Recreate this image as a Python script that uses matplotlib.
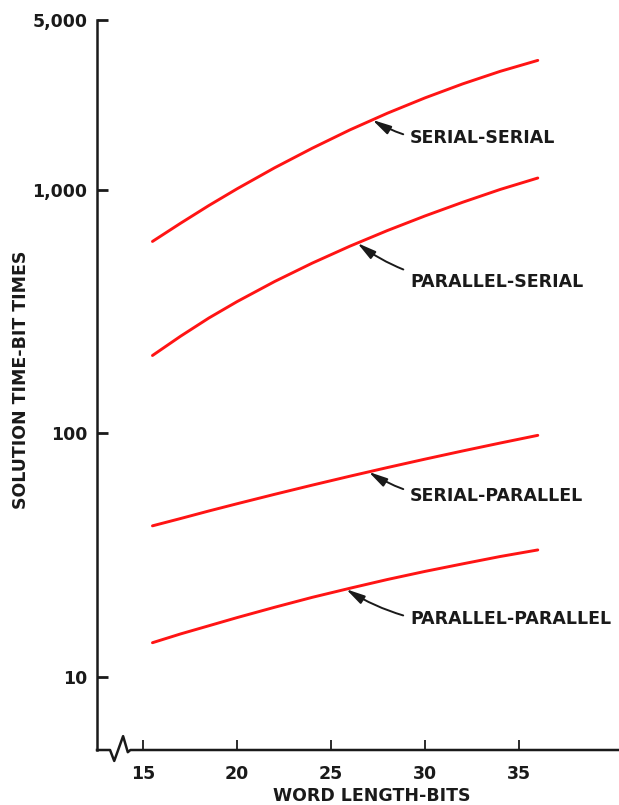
import matplotlib
matplotlib.use("Agg")
import matplotlib.pyplot as plt
import numpy as np

# ---- data ----
word_length = [15.5, 17, 18.5, 20, 22, 24, 26, 28, 30, 32, 34, 36]
serial_serial = [615, 731, 864, 1012, 1235, 1486, 1767, 2070, 2393, 2731, 3076, 3412]
parallel_serial = [209, 251, 298, 348, 421, 501, 588, 682, 783, 891, 1006, 1121]
serial_parallel = [41.7, 44.7, 48.0, 51.4, 56.2, 61.3, 66.7, 72.4, 78.4, 84.7, 91.3, 98.2]
parallel_parallel = [13.8, 15.0, 16.2, 17.5, 19.3, 21.2, 23.1, 25.1, 27.1, 29.1, 31.2, 33.2]
series_names = ["SERIAL-SERIAL", "PARALLEL-SERIAL", "SERIAL-PARALLEL", "PARALLEL-PARALLEL"]
x_ticks = [15, 20, 25, 30, 35]
y_ticks = [10, 100, 1000, 5000]
y_tick_labels = ["10", "100", "1,000", "5,000"]

FAM = ['DejaVu Sans Condensed', 'DejaVu Sans']
plt.rcParams['font.family'] = FAM
INK = "#1a1a1a"
RED = "#ff1414"

fig = plt.figure(figsize=(6.19, 8.05), dpi=100)
W, H = 619, 805
left_px, right_px, top_px, bot_px = 97, 619, 20, 750
ax = fig.add_axes([left_px / W, 1 - bot_px / H, (right_px - left_px) / W, (bot_px - top_px) / H])
ax.set_yscale('log')
ax.set_xlim(12.55, 40.32)
ax.set_ylim(5, 5000)

all_series = [serial_serial, parallel_serial, serial_parallel, parallel_parallel]
for ys in all_series:
    ax.plot(word_length, ys, color=RED, lw=2.1, solid_capstyle='round', solid_joinstyle='round')

# annotations
arrow_x = [27.2, 26.4, 27.0, 25.8]
label_pos = [(29.2, 1640), (29.2, 421), (29.2, 55.5), (29.2, 17.2)]
for name, ys, ax_x, (tx, ty) in zip(series_names, all_series, arrow_x, label_pos):
    ay = 10 ** np.interp(ax_x, word_length, np.log10(ys))
    ax.annotate(name, xy=(ax_x, ay), xytext=(tx, ty), fontsize=12.5, fontweight='bold',
                color=INK, va='center', ha='left',
                arrowprops=dict(arrowstyle='-|>,head_length=0.9,head_width=0.22',
                                color=INK, lw=1.4, shrinkA=3, shrinkB=0,
                                connectionstyle='arc3,rad=-0.2'))

# axes styling
for s in ['top', 'right', 'bottom']:
    ax.spines[s].set_visible(False)
ax.spines['left'].set_linewidth(1.8)
ax.spines['left'].set_color(INK)

ax.set_yticks(y_ticks)
ax.set_yticklabels(y_tick_labels)
ax.yaxis.set_minor_locator(matplotlib.ticker.NullLocator())
ax.tick_params(axis='y', direction='in', length=8, width=2, color=INK, pad=7,
               labelsize=12.5, labelcolor=INK)
ax.set_xticks(x_ticks)
ax.tick_params(axis='x', direction='in', length=7, width=1.3, color=INK, pad=11,
               labelsize=12.5, labelcolor=INK)
for lab in ax.get_xticklabels() + ax.get_yticklabels():
    lab.set_fontweight('bold')

# bottom axis with break symbol
bx = [0, 0.025, 0.033, 0.050, 0.059, 0.064, 1.0]
by = [0, 0, -0.015, 0.019, -0.003, 0, 0]
ax.plot(bx, by, transform=ax.transAxes, color=INK, lw=1.8, clip_on=False)

ax.set_xlabel("WORD LENGTH-BITS", fontsize=12.5, fontweight='bold', color=INK)
ax.xaxis.set_label_coords(0.527, -0.051)
ax.set_ylabel("SOLUTION TIME-BIT TIMES", fontsize=12.5, fontweight='bold', color=INK)
ax.yaxis.set_label_coords(-0.128, 0.507)

fig.savefig("out.png", dpi=100)
